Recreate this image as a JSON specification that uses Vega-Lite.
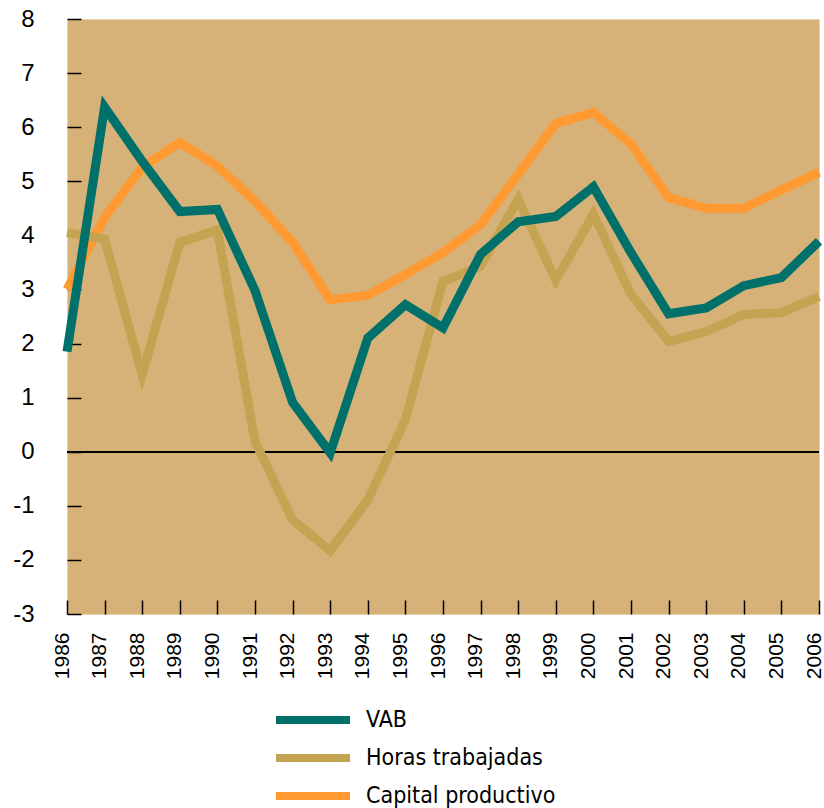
{
  "$schema": "https://vega.github.io/schema/vega-lite/v6.json",
  "width": 752,
  "height": 595,
  "autosize": "none",
  "padding": {"left": 67, "top": 19, "right": 5, "bottom": 194},
  "background": "white",
  "config": {
    "view": {"fill": "#D6B278", "stroke": "#EBD2A8", "strokeWidth": 1},
    "font": "Liberation Sans"
  },
  "data": {
    "values": [
      {"year": "1986", "serie": "Capital productivo", "value": 3.0},
      {"year": "1987", "serie": "Capital productivo", "value": 4.33},
      {"year": "1988", "serie": "Capital productivo", "value": 5.26},
      {"year": "1989", "serie": "Capital productivo", "value": 5.72},
      {"year": "1990", "serie": "Capital productivo", "value": 5.28},
      {"year": "1991", "serie": "Capital productivo", "value": 4.63},
      {"year": "1992", "serie": "Capital productivo", "value": 3.87},
      {"year": "1993", "serie": "Capital productivo", "value": 2.81},
      {"year": "1994", "serie": "Capital productivo", "value": 2.89},
      {"year": "1995", "serie": "Capital productivo", "value": 3.28},
      {"year": "1996", "serie": "Capital productivo", "value": 3.68},
      {"year": "1997", "serie": "Capital productivo", "value": 4.2},
      {"year": "1998", "serie": "Capital productivo", "value": 5.13},
      {"year": "1999", "serie": "Capital productivo", "value": 6.07},
      {"year": "2000", "serie": "Capital productivo", "value": 6.27},
      {"year": "2001", "serie": "Capital productivo", "value": 5.69},
      {"year": "2002", "serie": "Capital productivo", "value": 4.7},
      {"year": "2003", "serie": "Capital productivo", "value": 4.5},
      {"year": "2004", "serie": "Capital productivo", "value": 4.5},
      {"year": "2005", "serie": "Capital productivo", "value": 4.84},
      {"year": "2006", "serie": "Capital productivo", "value": 5.17},
      {"year": "1986", "serie": "Horas trabajadas", "value": 4.05},
      {"year": "1987", "serie": "Horas trabajadas", "value": 3.93},
      {"year": "1988", "serie": "Horas trabajadas", "value": 1.43},
      {"year": "1989", "serie": "Horas trabajadas", "value": 3.87},
      {"year": "1990", "serie": "Horas trabajadas", "value": 4.1},
      {"year": "1991", "serie": "Horas trabajadas", "value": 0.19},
      {"year": "1992", "serie": "Horas trabajadas", "value": -1.26},
      {"year": "1993", "serie": "Horas trabajadas", "value": -1.83},
      {"year": "1994", "serie": "Horas trabajadas", "value": -0.89},
      {"year": "1995", "serie": "Horas trabajadas", "value": 0.59},
      {"year": "1996", "serie": "Horas trabajadas", "value": 3.15},
      {"year": "1997", "serie": "Horas trabajadas", "value": 3.43},
      {"year": "1998", "serie": "Horas trabajadas", "value": 4.67},
      {"year": "1999", "serie": "Horas trabajadas", "value": 3.17},
      {"year": "2000", "serie": "Horas trabajadas", "value": 4.39},
      {"year": "2001", "serie": "Horas trabajadas", "value": 2.91},
      {"year": "2002", "serie": "Horas trabajadas", "value": 2.04},
      {"year": "2003", "serie": "Horas trabajadas", "value": 2.22},
      {"year": "2004", "serie": "Horas trabajadas", "value": 2.54},
      {"year": "2005", "serie": "Horas trabajadas", "value": 2.57},
      {"year": "2006", "serie": "Horas trabajadas", "value": 2.87},
      {"year": "1986", "serie": "VAB", "value": 1.85},
      {"year": "1987", "serie": "VAB", "value": 6.37},
      {"year": "1988", "serie": "VAB", "value": 5.37},
      {"year": "1989", "serie": "VAB", "value": 4.44},
      {"year": "1990", "serie": "VAB", "value": 4.48},
      {"year": "1991", "serie": "VAB", "value": 2.98},
      {"year": "1992", "serie": "VAB", "value": 0.91},
      {"year": "1993", "serie": "VAB", "value": -0.02},
      {"year": "1994", "serie": "VAB", "value": 2.1},
      {"year": "1995", "serie": "VAB", "value": 2.72},
      {"year": "1996", "serie": "VAB", "value": 2.29},
      {"year": "1997", "serie": "VAB", "value": 3.65},
      {"year": "1998", "serie": "VAB", "value": 4.25},
      {"year": "1999", "serie": "VAB", "value": 4.35},
      {"year": "2000", "serie": "VAB", "value": 4.9},
      {"year": "2001", "serie": "VAB", "value": 3.68},
      {"year": "2002", "serie": "VAB", "value": 2.55},
      {"year": "2003", "serie": "VAB", "value": 2.66},
      {"year": "2004", "serie": "VAB", "value": 3.07},
      {"year": "2005", "serie": "VAB", "value": 3.22},
      {"year": "2006", "serie": "VAB", "value": 3.89}
    ]
  },
  "layer": [
    {
      "mark": {"type": "rule", "color": "black", "strokeWidth": 1.5},
      "encoding": {"y": {"datum": 0, "type": "quantitative"}}
    },
    {
      "mark": {"type": "line", "strokeWidth": 9},
      "encoding": {
        "x": {
          "field": "year",
          "type": "ordinal",
          "scale": {"type": "point", "padding": 0},
          "axis": {
            "title": null,
            "domain": false,
            "tickSize": -14,
            "tickColor": "black",
            "tickWidth": 1.5,
            "labelAngle": -90,
            "labelAlign": "right",
            "labelBaseline": "middle",
            "labelFontSize": 21,
            "labelColor": "black",
            "labelPadding": 32,
            "labelOffset": -5
          }
        },
        "y": {
          "field": "value",
          "type": "quantitative",
          "scale": {"domain": [-3, 8], "nice": false, "zero": false},
          "axis": {
            "title": null,
            "domain": false,
            "grid": false,
            "values": [-3, -2.5, -2, -1.5, -1, -0.5, 0, 0.5, 1, 1.5, 2, 2.5, 3, 3.5, 4, 4.5, 5, 5.5, 6, 6.5, 7, 7.5, 8],
            "labelExpr": "datum.value % 1 === 0 ? '' + datum.value : ''",
            "tickSize": -14,
            "tickWidth": 1.5,
            "tickColor": {"condition": {"test": "datum.value % 1 !== 0", "value": "#6B5A3A"}, "value": "black"},
            "labelFontSize": 24,
            "labelColor": "black",
            "labelPadding": 47
          }
        },
        "color": {
          "field": "serie",
          "type": "nominal",
          "scale": {
            "domain": ["VAB", "Horas trabajadas", "Capital productivo"],
            "range": ["#00706B", "#C4A352", "#FF9A33"]
          },
          "legend": {
            "title": null,
            "orient": "none",
            "legendX": 205,
            "legendY": 686,
            "padding": 0,
            "symbolType": "stroke",
            "symbolStrokeWidth": 8,
            "symbolSize": 5476,
            "clipHeight": 30,
            "labelFont": "DejaVu Sans Condensed, Roboto, Liberation Sans",
            "labelFontSize": 23,
            "labelColor": "black",
            "labelOffset": 12,
            "labelLimit": 400,
            "rowPadding": 8
          }
        },
        "order": {"field": "serie"}
      }
    }
  ]
}
